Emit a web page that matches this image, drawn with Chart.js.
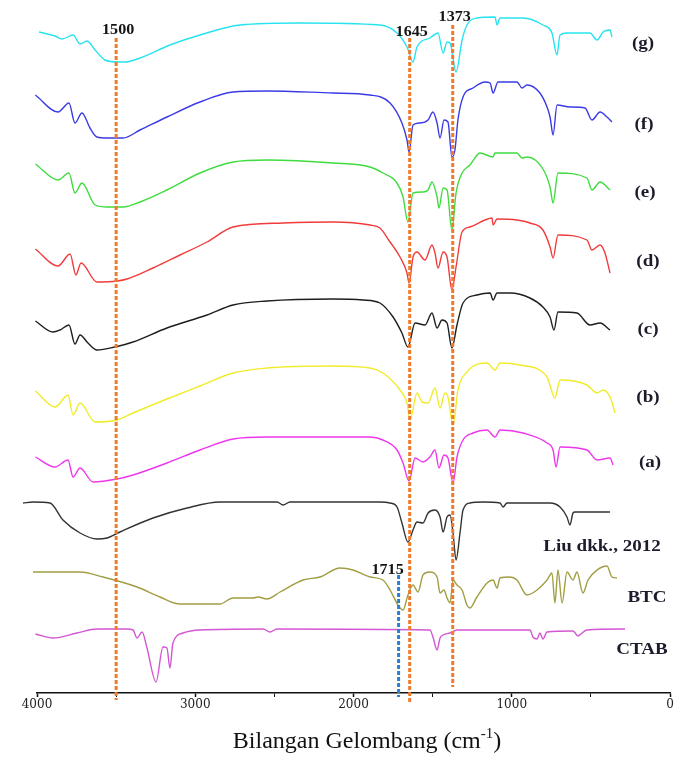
<!DOCTYPE html>
<html>
<head>
<meta charset="utf-8">
<script src="https://cdn.jsdelivr.net/npm/chart.js@4.4.1/dist/chart.umd.min.js"></script>
<style>
  html, body { margin: 0; padding: 0; background: #fff; }
  #wrap { width: 675px; height: 757px; }
</style>
</head>
<body>
<div id="wrap"><canvas id="ftir-chart"></canvas></div>
<script>
// Spektrum FTIR: bilangan gelombang (cm-1) dan transmitansi bertumpuk (a.u.)
const gWave = [3987,3886,3842,3772,3728,3684,3633,3570,3488,3444,3349,3160,2970,2717,2338,1833,1725,1662,1624,1599,1517,1466,1434,1409,1390,1352,1314,1283,1220,1106,1093,1074,929,803,746,714,695,651,506,461,423,379,367];
const gVal = [661,657,654,658,649,652,643,633,631,631,635,648,658,668,670,668,660,646,631,646,655,660,640,651,650,621,653,668,675,676,668,675,675,668,660,638,658,660,660,653,661,663,656];

const fWave = [4010,3867,3798,3760,3716,3665,3621,3558,3457,3349,3179,2970,2761,2547,2130,1896,1769,1694,1662,1649,1624,1580,1529,1498,1472,1453,1428,1403,1378,1359,1340,1308,1245,1169,1137,1118,1087,967,935,904,822,777,758,739,714,632,537,493,442,398,367];
const fVal = [598,581,590,570,580,565,556,555,555,563,576,591,601,602,600,598,590,570,553,541,568,570,573,581,570,555,573,571,536,543,573,596,605,611,610,600,611,611,605,608,600,586,576,558,588,586,585,573,581,576,571];

const eWave = [4010,3867,3798,3760,3716,3633,3558,3457,3349,3179,2970,2761,2547,2130,1896,1814,1725,1687,1656,1624,1561,1529,1504,1472,1460,1434,1409,1378,1352,1314,1264,1201,1118,1106,967,935,904,803,758,739,708,525,493,442,379];
const eVal = [529,513,520,500,510,488,486,486,491,503,520,531,533,530,526,520,510,496,471,500,501,503,511,496,485,505,503,463,500,520,528,540,536,540,540,535,536,524,506,490,520,515,503,511,503];

const dWave = [4010,3867,3791,3754,3722,3621,3494,3431,3267,3096,2926,2761,2445,2130,1896,1833,1769,1706,1662,1649,1624,1599,1548,1504,1485,1466,1434,1409,1378,1352,1314,1264,1169,1125,1118,1093,967,885,803,758,739,708,525,493,442,411,379];
const dVal = [444,427,439,418,430,411,412,414,425,438,451,466,470,471,468,465,451,436,420,410,436,441,433,448,440,425,441,436,403,426,461,466,473,475,468,474,473,470,463,446,435,458,453,443,448,440,420];

const cWave = [4010,3899,3855,3798,3760,3728,3678,3621,3507,3393,3179,2926,2761,2547,2130,1940,1833,1750,1694,1656,1611,1548,1504,1472,1441,1409,1378,1346,1308,1220,1137,1118,1093,1011,885,803,758,733,708,588,506,442,379];
const cVal = [372,361,363,368,349,358,350,343,346,351,365,378,388,392,394,393,390,376,360,346,370,368,380,365,373,370,345,368,390,398,400,393,400,400,395,386,376,363,381,380,368,370,363];

const bWave = [4010,3886,3804,3772,3728,3633,3494,3393,3179,2970,2761,2547,2130,1896,1814,1706,1662,1643,1599,1567,1529,1485,1453,1422,1403,1371,1340,1283,1156,1106,1074,948,777,727,695,525,461,423,379,347];
const bVal = [302,286,298,278,290,271,273,280,294,307,320,325,327,325,320,303,290,273,300,291,290,305,285,300,296,268,303,321,330,323,330,328,316,295,313,308,300,303,296,280];

const aWave = [4010,3886,3804,3772,3728,3646,3494,3393,3179,2970,2761,2547,2130,1896,1814,1725,1687,1649,1611,1561,1517,1485,1460,1428,1403,1371,1346,1308,1245,1156,1106,1074,929,777,739,720,695,525,461,379,360];
const aVal = [236,226,233,216,225,211,214,218,230,243,254,256,256,256,253,243,230,212,235,231,236,243,225,238,235,210,236,253,260,263,256,263,260,250,243,226,246,243,233,235,228];

const liuWave = [4088,4025,3918,3836,3728,3621,3558,3476,3267,3052,2844,2483,2445,2401,1833,1769,1725,1694,1656,1624,1599,1561,1529,1485,1453,1434,1409,1390,1371,1352,1327,1308,1264,1182,1074,1055,1030,758,695,651,632,613,600,379];
const liuVal = [190,191,190,173,160,154,155,161,175,185,191,191,188,191,191,190,186,170,151,163,171,170,180,183,176,161,176,178,160,133,160,183,190,191,190,186,190,190,186,176,168,180,181,181];

const btcWave = [4025,3728,3583,3368,3223,3096,2844,2761,2635,2603,2547,2464,2319,2212,2085,2003,1896,1814,1769,1719,1687,1656,1624,1592,1561,1517,1472,1453,1428,1409,1390,1371,1346,1314,1283,1264,1220,1156,1118,1093,1074,1011,967,904,840,777,746,727,708,682,651,613,588,550,518,461,398,367,335];
const btcVal = [121,121,116,106,96,89,89,95,95,96,94,101,113,116,125,123,116,113,103,88,83,98,108,101,118,121,116,100,103,95,90,113,108,103,88,85,96,110,113,105,115,116,113,98,103,113,120,90,123,90,121,113,121,100,113,123,127,116,115];

const ctabWave = [4010,3899,3747,3621,3431,3393,3368,3336,3305,3248,3204,3179,3160,3141,3077,2970,2572,2528,2483,1517,1498,1472,1453,1434,1390,1346,885,866,840,822,803,777,613,581,556,525,284];
const ctabVal = [59,55,60,64,64,63,55,61,45,11,46,45,25,50,60,63,64,61,64,63,56,43,55,58,60,63,63,56,54,60,54,61,62,57,60,63,64];

const seriesNames = ['(g)', '(f)', '(e)', '(d)', '(c)', '(b)', '(a)', 'Liu dkk., 2012', 'BTC', 'CTAB'];
const seriesWaves = [gWave, fWave, eWave, dWave, cWave, bWave, aWave, liuWave, btcWave, ctabWave];
const seriesVals = [gVal, fVal, eVal, dVal, cVal, bVal, aVal, liuVal, btcVal, ctabVal];

// garis penanda puncak
const markerWaves = [3500, 1645, 1373];
const markerTexts = ['1500', '1645', '1373'];
const btcMarkerWave = 1715;
const btcMarkerText = '1715';

const xTickValues = [4000, 3500, 3000, 2500, 2000, 1500, 1000, 500, 0];
const xTickLabels = ['4000', '', '3000', '', '2000', '', '1000', '', '0'];
const xTitle = ['Bilangan Gelombang (cm', '-1', ')'];

const lineColors = ['#27e3f0', '#3b3be6', '#3fdc3f', '#f23c3c', '#1e1e1e', '#f0ec2c', '#ee36ee', '#333333', '#a19d42', '#d257d2'];

const datasets = seriesNames.map((name, i) => ({
    label: name,
    data: seriesWaves[i].map((w, j) => ({ x: w, y: seriesVals[i][j] })),
    borderColor: lineColors[i],
    borderWidth: 1.4,
    pointRadius: 0,
    cubicInterpolationMode: 'monotone',
    clip: false
}));

function stretchText(ctx, text, px, py, sx) {
    ctx.save();
    ctx.translate(px, py);
    ctx.scale(sx, 1);
    ctx.fillText(text, 0, 0);
    ctx.restore();
}

const ftirLabels = {
    id: 'ftirLabels',
    afterDatasetsDraw(chart) {
        const { ctx, scales: { x, y } } = chart;
        const tops = [655, 655, 668];
        const bottoms = [-7, -9, 6];
        const textY = [30, 32, 17];

        ctx.save();
        ctx.lineWidth = 3;
        ctx.setLineDash([4, 2]);
        ctx.strokeStyle = '#ee7b2c';
        markerWaves.forEach((w, i) => {
            const px = x.getPixelForValue(w);
            ctx.beginPath();
            ctx.moveTo(px, y.getPixelForValue(tops[i]));
            ctx.lineTo(px, y.getPixelForValue(bottoms[i]));
            ctx.stroke();
        });
        ctx.strokeStyle = '#2b7fd2';
        const bx = x.getPixelForValue(btcMarkerWave);
        ctx.beginPath();
        ctx.moveTo(bx, y.getPixelForValue(118));
        ctx.lineTo(bx, y.getPixelForValue(-4));
        ctx.stroke();
        ctx.setLineDash([]);

        ctx.fillStyle = '#141414';
        ctx.font = 'bold 14px "Liberation Serif"';
        ctx.textAlign = 'center';
        ctx.textBaseline = 'middle';
        markerWaves.forEach((w, i) => {
            stretchText(ctx, markerTexts[i], x.getPixelForValue(w) + 2, textY[i], 1.15);
        });
        stretchText(ctx, btcMarkerText, bx - 11, 570, 1.15);

        // nama sampel di sisi kanan
        const nameX = [643, 644, 645, 648, 648, 648, 650, 602, 647, 642];
        const nameY = [44, 125, 193, 262, 330, 398, 463, 547, 598, 650];
        ctx.fillStyle = '#1c1c2c';
        ctx.font = 'bold 17px "Liberation Serif"';
        seriesNames.forEach((n, i) => {
            stretchText(ctx, n, nameX[i], nameY[i], 1.12);
        });

        // judul sumbu x dengan pangkat
        ctx.fillStyle = '#111';
        ctx.textAlign = 'left';
        ctx.textBaseline = 'alphabetic';
        const big = '24px "Liberation Serif"';
        const small = '15px "Liberation Serif"';
        ctx.font = big;
        const w0 = ctx.measureText(xTitle[0]).width;
        const w2 = ctx.measureText(xTitle[2]).width;
        ctx.font = small;
        const w1 = ctx.measureText(xTitle[1]).width;
        let tx = 367 - (w0 + w1 + w2) / 2;
        const ty = 748;
        ctx.font = big;
        ctx.fillText(xTitle[0], tx, ty);
        tx += w0;
        ctx.font = small;
        ctx.fillText(xTitle[1], tx, ty - 10);
        tx += w1;
        ctx.font = big;
        ctx.fillText(xTitle[2], tx, ty);
        ctx.restore();
    }
};

new Chart(document.getElementById('ftir-chart'), {
    type: 'line',
    data: { datasets: datasets },
    plugins: [ftirLabels],
    options: {
        responsive: true,
        maintainAspectRatio: false,
        animation: false,
        layout: { padding: { left: 37, right: 5, top: 5, bottom: 0 } },
        plugins: {
            legend: { display: false },
            tooltip: { enabled: false }
        },
        scales: {
            x: {
                type: 'linear',
                reverse: true,
                min: 0,
                max: 4000,
                afterBuildTicks: (s) => { s.ticks = xTickValues.map(v => ({ value: v })); },
                afterFit: (s) => { s.height = 64; },
                ticks: {
                    autoSkip: false,
                    maxRotation: 0,
                    padding: 1,
                    color: '#222',
                    font: { family: 'DejaVu Serif', size: 12 },
                    callback: (v, i) => xTickLabels[i]
                },
                grid: {
                    drawOnChartArea: false,
                    tickLength: 4,
                    tickColor: '#111',
                    tickWidth: (c) => (c.index % 2 === 0 ? 1.5 : 1)
                },
                border: { color: '#111', width: 1.5 }
            },
            y: {
                display: false,
                min: 0,
                max: 688
            }
        }
    }
});
</script>
</body>
</html>
